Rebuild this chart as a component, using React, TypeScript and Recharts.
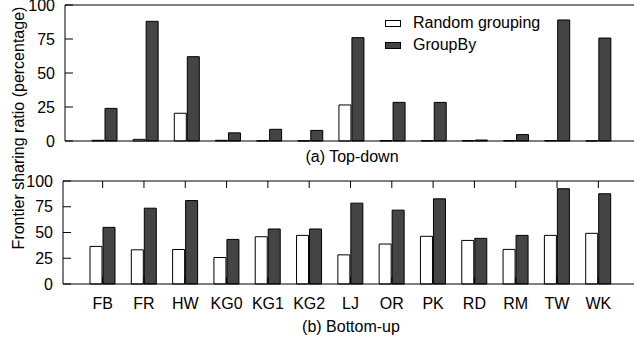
import { BarChart, Bar, XAxis, YAxis, Legend, Label } from 'recharts';

const categories = ['FB', 'FR', 'HW', 'KG0', 'KG1', 'KG2', 'LJ', 'OR', 'PK', 'RD', 'RM', 'TW', 'WK'];
const seriesNames = ['Random grouping', 'GroupBy'];

// (a) Top-down
const topDownRandom = [0.5, 1.2, 20.4, 0.5, 0.2, 0.2, 26.5, 0.3, 0.2, 0.3, 0.3, 0.3, 0.1];
const topDownGroupBy = [24, 88, 62, 6, 8.6, 7.8, 76, 28.4, 28.4, 0.7, 4.7, 89, 75.7];

// (b) Bottom-up
const bottomUpRandom = [36.5, 33.2, 33.5, 25.7, 45.9, 47.2, 28.3, 38.8, 46.3, 42.3, 33.6, 47.2, 49.2];
const bottomUpGroupBy = [55, 73.6, 81, 43.3, 53.4, 53.4, 78.5, 71.7, 82.7, 44.3, 47.2, 92.5, 87.6];

const yTicks = [0, 25, 50, 75, 100];

const font = '"Liberation Sans", Arial, Helvetica, sans-serif';
const tickStyle = { fontSize: 16, fill: '#000', fontFamily: font };
const noLabel = () => '';

const topData = categories.map((name, i) => ({
  name,
  random: topDownRandom[i],
  groupBy: topDownGroupBy[i],
}));

const bottomData = categories.map((name, i) => ({
  name,
  random: bottomUpRandom[i],
  groupBy: bottomUpGroupBy[i],
}));

// negative tickSize doesn't draw on YAxis, so draw the inward tick with the label
const LeftTick = (props: any) => {
  const { x, y, payload } = props;
  return (
    <g>
      <line x1={x + 10} x2={x + 18} y1={y} y2={y} stroke="#000" />
      <text x={x} y={y} dy="0.355em" textAnchor="end" style={tickStyle}>
        {payload.value}
      </text>
    </g>
  );
};

const RightTick = (props: any) => {
  const { x, y } = props;
  return <line x1={x - 8} x2={x} y1={y} y2={y} stroke="#000" />;
};

const renderLegend = (props: any) => {
  // keep the legend in series order, not sorted by name
  const payload = [...(props.payload || [])].sort(
    (a: any, b: any) => seriesNames.indexOf(a.value) - seriesNames.indexOf(b.value)
  );
  return (
    <div style={{ fontFamily: font, fontSize: 16, color: '#000' }}>
      {payload.map((entry: any) => (
        <div key={entry.value} style={{ display: 'flex', alignItems: 'center', height: 22 }}>
          <span
            style={{
              display: 'inline-block',
              width: 14,
              height: 5,
              background: entry.color,
              border: '1px solid #000',
              marginRight: 12,
            }}
          />
          <span>{entry.value}</span>
        </div>
      ))}
    </div>
  );
};

const Panel = ({ data, top }: { data: any[]; top: boolean }) => {
  const height = top ? 170 : 175;
  return (
    <BarChart
      width={650}
      height={height}
      data={data}
      margin={top ? { top: 4, right: 10, bottom: 0, left: 0 } : { top: 10, right: 10, bottom: 0, left: 0 }}
      barSize={12}
      barGap={1}
    >
      <XAxis
        dataKey="name"
        height={top ? 29 : 61}
        padding={{ left: 19, right: 20 }}
        axisLine={{ stroke: '#000' }}
        tick={top ? false : tickStyle}
        tickLine={top ? false : { stroke: '#000' }}
        tickSize={-7}
        tickMargin={21}
        interval={0}
      >
        <Label
          value={top ? '(a) Top-down' : '(b) Bottom-up'}
          position="insideBottom"
          offset={top ? 8 : 13}
          style={tickStyle}
        />
      </XAxis>
      <XAxis
        xAxisId="top"
        orientation="top"
        dataKey="name"
        height={1}
        padding={{ left: 19, right: 20 }}
        axisLine={{ stroke: '#000' }}
        tick={tickStyle}
        tickFormatter={noLabel}
        tickLine={top ? false : { stroke: '#000' }}
        tickSize={-7}
        interval={0}
      />
      <YAxis
        width={top ? 65 : 63}
        domain={[0, 100]}
        ticks={yTicks}
        interval={0}
        axisLine={{ stroke: '#000' }}
        tickLine={false}
        tickSize={0}
        tickMargin={10}
        tick={<LeftTick />}
      />
      <YAxis
        yAxisId="right"
        orientation="right"
        width={1}
        domain={[0, 100]}
        ticks={yTicks}
        interval={0}
        axisLine={{ stroke: '#000' }}
        tickLine={false}
        tickSize={0}
        tickMargin={0}
        tick={<RightTick />}
      />
      {top && (
        <Legend
          content={renderLegend}
          layout="vertical"
          align="center"
          verticalAlign="middle"
          wrapperStyle={{ top: 12, left: 385, width: 220, bottom: 'auto', right: 'auto' }}
        />
      )}
      <Bar
        dataKey="random"
        name={seriesNames[0]}
        fill="#ffffff"
        stroke="#000"
        strokeWidth={1}
        isAnimationActive={false}
      />
      <Bar
        dataKey="groupBy"
        name={seriesNames[1]}
        fill="#444444"
        stroke="#000"
        strokeWidth={1}
        isAnimationActive={false}
      />
    </BarChart>
  );
};

export default function App() {
  return (
    <div
      style={{
        position: 'absolute',
        left: 0,
        top: 0,
        width: 634,
        height: 345,
        overflow: 'hidden',
        background: '#fff',
        fontFamily: font,
      }}
    >
      <div style={{ position: 'absolute', left: 0, top: 0 }}>
        <Panel data={topData} top={true} />
      </div>
      <div style={{ position: 'absolute', left: 0, top: 170 }}>
        <Panel data={bottomData} top={false} />
      </div>
      <div
        style={{
          position: 'absolute',
          left: 18.5,
          top: 128,
          transform: 'translate(-50%, -50%) rotate(-90deg)',
          whiteSpace: 'nowrap',
          fontSize: 16,
          color: '#000',
        }}
      >
        Frontier sharing ratio (percentage)
      </div>
    </div>
  );
}
